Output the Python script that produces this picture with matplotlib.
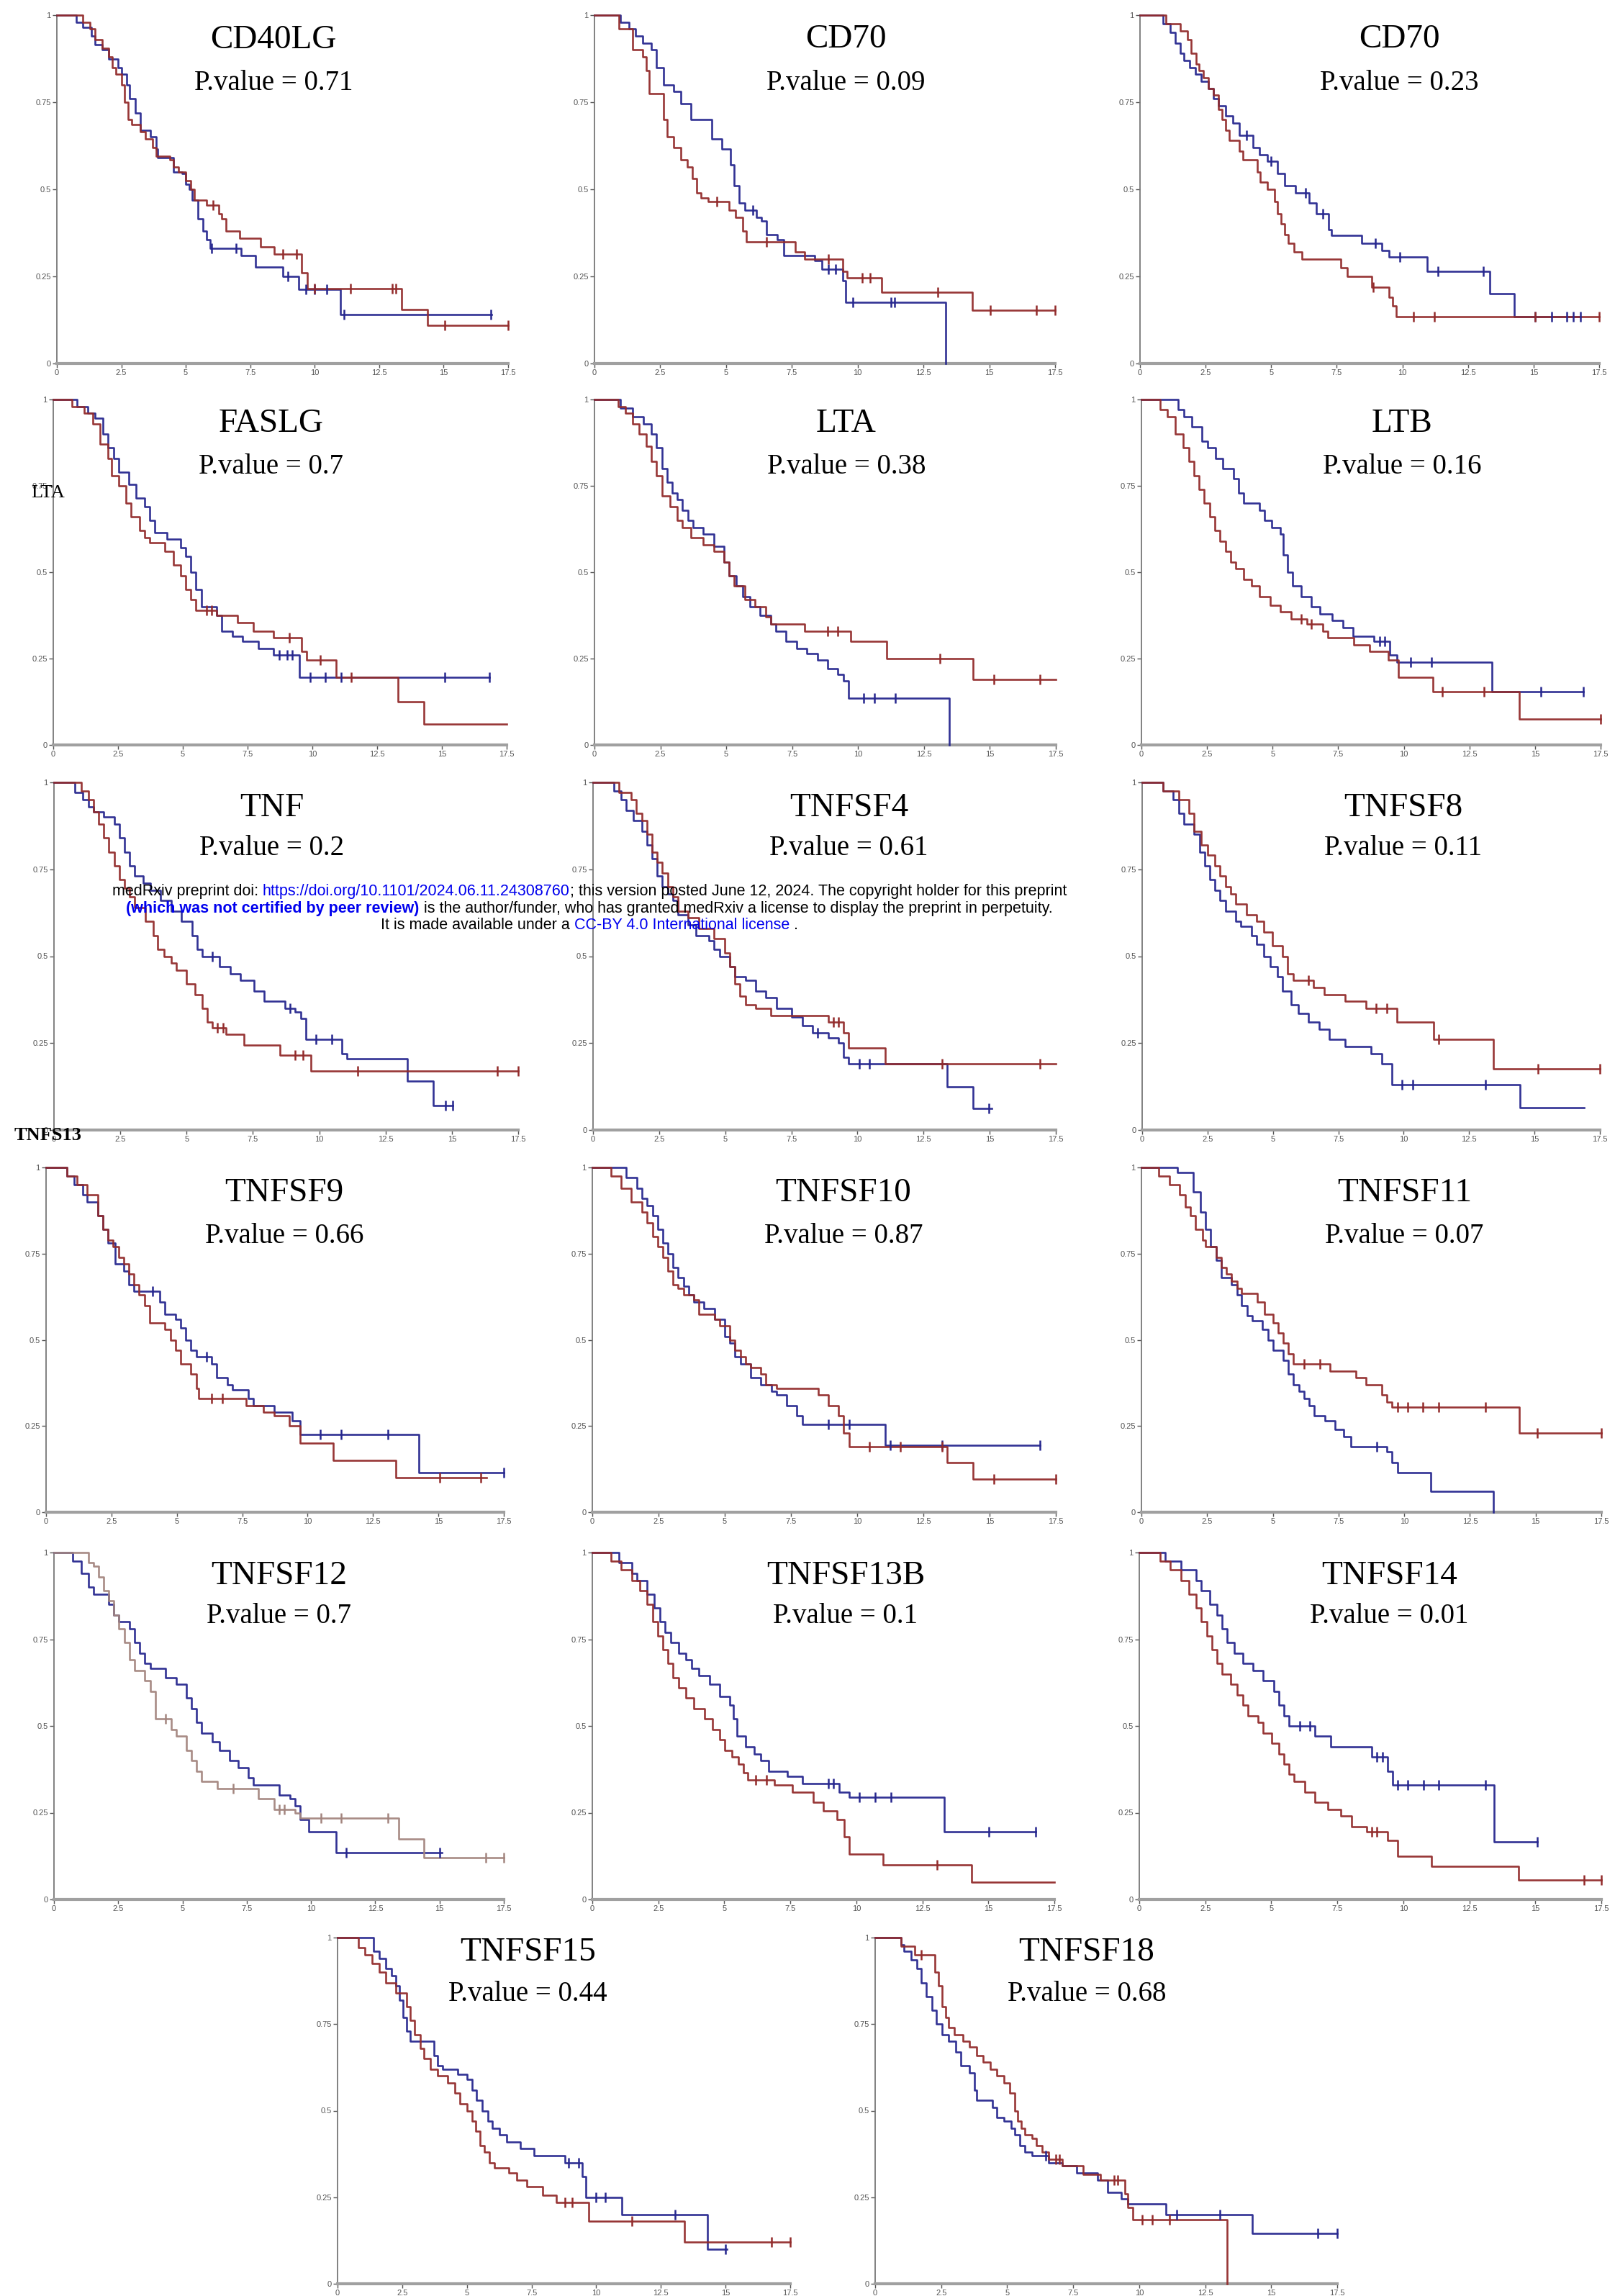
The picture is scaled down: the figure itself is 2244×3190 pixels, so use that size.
import numpy as np
import matplotlib
matplotlib.use('Agg')
import matplotlib.pyplot as plt
from matplotlib.offsetbox import TextArea, HPacker, VPacker, AnchoredOffsetbox

# --- パネルの見出し ---
genes = ['CD40LG', 'CD70', 'CD70', 'FASLG', 'LTA', 'LTB', 'TNF', 'TNFSF4', 'TNFSF8',
         'TNFSF9', 'TNFSF10', 'TNFSF11', 'TNFSF12', 'TNFSF13B', 'TNFSF14', 'TNFSF15', 'TNFSF18']
pvalues = ['0.71', '0.09', '0.23', '0.7', '0.38', '0.16', '0.2', '0.61', '0.11',
           '0.66', '0.87', '0.07', '0.7', '0.1', '0.01', '0.44', '0.68']

# --- 生存曲線 (time, survival, censor times) ---
cd40lg_b_t = [0, 0.74, 1.01, 1.35, 1.48, 1.75, 2.02, 2.36, 2.5, 2.7, 2.83, 3.04, 3.24, 3.64, 3.85, 3.91, 4.52, 4.86, 4.99, 5.13, 5.26, 5.47, 5.67, 5.8, 5.94, 7.15, 7.69, 8.77, 9.38, 11.0, 16.85]
cd40lg_b_s = [1, 0.98, 0.965, 0.94, 0.915, 0.90, 0.875, 0.85, 0.83, 0.80, 0.76, 0.72, 0.67, 0.65, 0.615, 0.59, 0.55, 0.545, 0.515, 0.50, 0.47, 0.415, 0.38, 0.355, 0.33, 0.31, 0.276, 0.25, 0.212, 0.14, 0.14]
cd40lg_b_c = [6.0, 6.96, 8.97, 9.65, 9.99, 10.46, 11.13, 16.84]
cd40lg_r_t = [0, 1.0, 1.28, 1.48, 1.75, 2.02, 2.16, 2.3, 2.5, 2.63, 2.77, 2.9, 3.24, 3.44, 3.71, 3.85, 4.39, 4.52, 4.72, 4.99, 5.2, 5.33, 5.8, 6.27, 6.4, 6.55, 7.08, 7.9, 8.43, 9.5, 9.7, 13.36, 14.37, 17.5]
cd40lg_r_s = [1, 0.98, 0.96, 0.93, 0.905, 0.88, 0.85, 0.83, 0.80, 0.75, 0.70, 0.685, 0.665, 0.645, 0.62, 0.595, 0.585, 0.565, 0.55, 0.525, 0.50, 0.47, 0.455, 0.43, 0.415, 0.38, 0.36, 0.335, 0.315, 0.26, 0.215, 0.155, 0.11, 0.11]
cd40lg_r_c = [6.07, 8.77, 9.3, 10.0, 11.4, 13.0, 13.15, 15.05, 17.5]

cd70_b_t = [0, 0.99, 1.31, 1.57, 1.83, 2.17, 2.36, 2.62, 3.01, 3.27, 3.66, 4.45, 4.84, 5.18, 5.31, 5.5, 5.71, 6.15, 6.34, 6.54, 6.94, 7.2, 8.38, 8.64, 9.42, 9.55, 13.35, 13.35]
cd70_b_s = [1, 0.98, 0.96, 0.94, 0.92, 0.90, 0.85, 0.80, 0.78, 0.745, 0.70, 0.645, 0.615, 0.57, 0.51, 0.46, 0.44, 0.42, 0.41, 0.37, 0.355, 0.31, 0.295, 0.27, 0.237, 0.176, 0, 0]
cd70_b_c = [6.02, 8.9, 9.16, 9.82, 11.26, 11.39]
cd70_r_t = [0, 0.92, 1.44, 1.83, 1.96, 2.09, 2.62, 2.75, 3.01, 3.27, 3.53, 3.72, 3.87, 4.06, 4.32, 5.1, 5.37, 5.63, 5.76, 7.64, 7.98, 9.42, 9.61, 10.92, 14.35, 17.5]
cd70_r_s = [1, 0.96, 0.90, 0.88, 0.84, 0.775, 0.70, 0.65, 0.62, 0.585, 0.565, 0.53, 0.49, 0.475, 0.465, 0.44, 0.42, 0.38, 0.35, 0.32, 0.30, 0.265, 0.245, 0.205, 0.153, 0.153]
cd70_r_c = [4.66, 6.54, 8.9, 10.16, 10.47, 13.04, 15.05, 16.8, 17.5]

cd70b_b_t = [0, 0.88, 1.14, 1.35, 1.54, 1.67, 1.88, 2.12, 2.33, 2.6, 2.79, 3.0, 3.26, 3.53, 3.79, 4.32, 4.54, 4.85, 5.25, 5.52, 5.92, 6.45, 6.71, 7.19, 7.3, 8.44, 9.23, 9.5, 10.95, 13.34, 14.27, 16.8]
cd70b_b_s = [1, 0.975, 0.95, 0.92, 0.89, 0.87, 0.85, 0.83, 0.81, 0.79, 0.76, 0.74, 0.71, 0.69, 0.655, 0.62, 0.60, 0.58, 0.545, 0.51, 0.49, 0.46, 0.43, 0.385, 0.367, 0.345, 0.325, 0.305, 0.265, 0.20, 0.135, 0.135]
cd70b_b_c = [4.06, 4.99, 6.31, 6.98, 8.97, 9.89, 11.35, 13.08, 15.07, 15.7, 16.26, 16.5, 16.8]
cd70b_r_t = [0, 1.0, 1.54, 1.8, 1.94, 2.15, 2.25, 2.41, 2.6, 2.79, 3.0, 3.13, 3.26, 3.4, 3.79, 3.93, 4.46, 4.59, 4.85, 5.12, 5.25, 5.38, 5.52, 5.65, 5.86, 6.18, 7.64, 7.9, 8.83, 9.5, 9.63, 9.76, 17.5]
cd70b_r_s = [1, 0.975, 0.955, 0.93, 0.89, 0.86, 0.84, 0.82, 0.79, 0.77, 0.73, 0.70, 0.67, 0.64, 0.61, 0.585, 0.55, 0.52, 0.50, 0.465, 0.43, 0.40, 0.37, 0.345, 0.32, 0.30, 0.275, 0.25, 0.22, 0.19, 0.165, 0.135, 0.135]
cd70b_r_c = [8.9, 10.42, 11.22, 15.07, 17.5]

faslg_b_t = [0, 0.92, 1.32, 1.6, 1.92, 2.12, 2.32, 2.52, 2.92, 3.2, 3.52, 3.72, 3.92, 4.39, 4.91, 5.11, 5.31, 5.51, 5.71, 6.31, 6.51, 6.91, 7.31, 7.91, 8.51, 9.51, 16.82]
faslg_b_s = [1, 0.98, 0.96, 0.945, 0.90, 0.86, 0.83, 0.79, 0.755, 0.715, 0.69, 0.65, 0.615, 0.595, 0.57, 0.545, 0.50, 0.45, 0.40, 0.375, 0.33, 0.315, 0.30, 0.28, 0.26, 0.195, 0.195]
faslg_b_c = [8.71, 9.03, 9.23, 9.91, 10.5, 11.1, 15.1, 16.82]
faslg_r_t = [0, 0.72, 1.2, 1.52, 1.8, 2.12, 2.24, 2.52, 2.8, 3.0, 3.32, 3.52, 3.72, 4.31, 4.63, 4.91, 5.11, 5.31, 5.51, 6.31, 7.11, 7.71, 8.51, 9.59, 9.79, 10.91, 13.3, 14.3, 17.5]
faslg_r_s = [1, 0.98, 0.96, 0.93, 0.87, 0.83, 0.78, 0.75, 0.70, 0.66, 0.62, 0.60, 0.585, 0.56, 0.52, 0.49, 0.45, 0.42, 0.39, 0.375, 0.355, 0.33, 0.31, 0.27, 0.245, 0.195, 0.125, 0.06, 0.06]
faslg_r_c = [5.91, 6.11, 9.11, 10.3, 11.5]

lta_b_t = [0, 0.98, 1.45, 1.85, 2.16, 2.36, 2.56, 2.75, 2.95, 3.15, 3.34, 3.54, 3.74, 4.13, 4.52, 4.92, 5.11, 5.39, 5.62, 5.9, 6.29, 6.69, 6.88, 7.27, 7.67, 8.06, 8.45, 8.85, 9.24, 9.44, 9.63, 13.45, 13.45]
lta_b_s = [1, 0.975, 0.95, 0.93, 0.90, 0.86, 0.80, 0.76, 0.73, 0.71, 0.68, 0.65, 0.63, 0.61, 0.575, 0.53, 0.49, 0.46, 0.43, 0.40, 0.375, 0.35, 0.33, 0.30, 0.28, 0.265, 0.245, 0.22, 0.205, 0.185, 0.135, 0, 0]
lta_b_c = [10.22, 10.62, 11.4]
lta_r_t = [0, 0.9, 1.18, 1.45, 1.69, 1.97, 2.16, 2.36, 2.56, 2.87, 3.15, 3.34, 3.66, 4.13, 4.52, 4.92, 5.11, 5.31, 5.7, 6.1, 6.49, 6.69, 7.98, 9.71, 11.09, 14.35, 17.5]
lta_r_s = [1, 0.98, 0.96, 0.93, 0.90, 0.865, 0.82, 0.78, 0.72, 0.69, 0.65, 0.63, 0.60, 0.58, 0.56, 0.53, 0.49, 0.46, 0.42, 0.40, 0.37, 0.35, 0.33, 0.30, 0.25, 0.19, 0.19]
lta_r_c = [8.85, 9.24, 13.1, 15.14, 16.9]

ltb_b_t = [0, 1.39, 1.63, 1.91, 2.31, 2.51, 2.82, 3.1, 3.5, 3.7, 3.9, 4.49, 4.69, 4.97, 5.29, 5.41, 5.57, 5.77, 6.09, 6.48, 6.8, 7.28, 7.68, 8.07, 8.87, 9.47, 9.75, 13.37, 16.83]
ltb_b_s = [1, 0.97, 0.95, 0.92, 0.88, 0.86, 0.83, 0.80, 0.77, 0.73, 0.70, 0.68, 0.65, 0.63, 0.61, 0.55, 0.50, 0.46, 0.43, 0.40, 0.38, 0.36, 0.34, 0.315, 0.30, 0.26, 0.24, 0.155, 0.155]
ltb_b_c = [9.07, 9.27, 10.26, 11.06, 15.23, 16.83]
ltb_r_t = [0, 0.72, 1.0, 1.3, 1.6, 1.8, 2.0, 2.2, 2.4, 2.6, 2.8, 3.0, 3.2, 3.4, 3.6, 3.9, 4.2, 4.5, 4.9, 5.3, 5.7, 6.3, 6.9, 7.1, 8.1, 8.7, 9.4, 9.8, 11.1, 14.4, 17.5]
ltb_r_s = [1, 0.97, 0.95, 0.90, 0.86, 0.82, 0.78, 0.74, 0.70, 0.66, 0.62, 0.59, 0.56, 0.53, 0.51, 0.48, 0.46, 0.43, 0.405, 0.385, 0.365, 0.35, 0.33, 0.31, 0.29, 0.27, 0.245, 0.195, 0.155, 0.075, 0.075]
ltb_r_c = [6.09, 6.48, 11.46, 13.05, 17.5]

tnf_b_t = [0, 0.78, 1.09, 1.29, 1.48, 1.88, 2.27, 2.46, 2.66, 2.85, 3.05, 3.36, 3.63, 4.02, 4.41, 4.8, 5.2, 5.39, 5.59, 6.25, 6.64, 7.03, 7.54, 7.93, 8.71, 9.1, 9.3, 9.49, 10.86, 11.05, 13.32, 14.3, 15.04]
tnf_b_s = [1, 0.97, 0.95, 0.93, 0.915, 0.90, 0.88, 0.84, 0.80, 0.76, 0.73, 0.71, 0.69, 0.66, 0.63, 0.60, 0.56, 0.52, 0.50, 0.47, 0.45, 0.43, 0.40, 0.37, 0.35, 0.34, 0.32, 0.26, 0.22, 0.205, 0.14, 0.07, 0.07]
tnf_b_c = [5.98, 8.9, 9.88, 10.47, 14.77, 15.04]
tnf_r_t = [0, 1.02, 1.29, 1.48, 1.68, 1.88, 2.07, 2.27, 2.46, 2.66, 2.85, 3.05, 3.44, 3.75, 3.91, 4.14, 4.41, 4.61, 5.0, 5.31, 5.59, 5.78, 5.98, 6.48, 7.15, 8.52, 9.69, 17.5]
tnf_r_s = [1, 0.975, 0.95, 0.915, 0.88, 0.84, 0.80, 0.76, 0.72, 0.695, 0.67, 0.64, 0.60, 0.56, 0.52, 0.50, 0.48, 0.46, 0.42, 0.39, 0.35, 0.31, 0.295, 0.275, 0.245, 0.215, 0.17, 0.17]
tnf_r_c = [6.17, 6.37, 9.1, 9.38, 11.45, 16.72, 17.5]

tnfsf4_b_t = [0, 0.78, 1.06, 1.25, 1.53, 1.84, 2.04, 2.23, 2.43, 2.62, 2.82, 3.01, 3.21, 3.6, 3.88, 4.39, 4.58, 4.78, 5.17, 5.36, 5.76, 6.15, 6.54, 6.93, 7.52, 7.91, 8.3, 8.89, 9.28, 9.48, 9.67, 13.39, 14.37, 15.07]
tnfsf4_b_s = [1, 0.975, 0.95, 0.92, 0.89, 0.86, 0.82, 0.78, 0.73, 0.70, 0.68, 0.66, 0.62, 0.59, 0.56, 0.545, 0.52, 0.50, 0.47, 0.44, 0.43, 0.40, 0.38, 0.35, 0.325, 0.30, 0.28, 0.265, 0.25, 0.21, 0.19, 0.125, 0.063, 0.063]
tnfsf4_b_c = [8.5, 10.06, 10.45, 14.96]
tnfsf4_r_t = [0, 0.98, 1.45, 1.64, 1.84, 2.04, 2.23, 2.43, 2.62, 2.82, 3.01, 3.21, 3.6, 3.99, 4.58, 4.97, 5.17, 5.36, 5.56, 5.76, 6.15, 6.73, 8.89, 9.48, 9.67, 11.04, 17.5]
tnfsf4_r_s = [1, 0.97, 0.95, 0.91, 0.89, 0.85, 0.80, 0.77, 0.74, 0.70, 0.67, 0.63, 0.61, 0.58, 0.55, 0.51, 0.47, 0.42, 0.385, 0.36, 0.35, 0.33, 0.31, 0.28, 0.235, 0.19, 0.19]
tnfsf4_r_c = [9.08, 9.28, 13.2, 16.9]

tnfsf8_b_t = [0, 0.8, 1.19, 1.39, 1.59, 1.99, 2.19, 2.39, 2.59, 2.78, 2.98, 3.18, 3.58, 3.78, 4.18, 4.38, 4.65, 4.89, 5.17, 5.37, 5.69, 5.97, 6.36, 6.76, 7.16, 7.76, 8.75, 9.15, 9.55, 14.44, 16.9]
tnfsf8_b_s = [1, 0.975, 0.95, 0.91, 0.88, 0.85, 0.80, 0.76, 0.72, 0.69, 0.66, 0.63, 0.60, 0.585, 0.56, 0.535, 0.50, 0.47, 0.44, 0.40, 0.36, 0.335, 0.31, 0.29, 0.26, 0.24, 0.22, 0.19, 0.13, 0.065, 0.065]
tnfsf8_b_c = [9.94, 10.34, 13.13]
tnfsf8_r_t = [0, 0.8, 1.39, 1.79, 1.99, 2.27, 2.51, 2.78, 2.98, 3.18, 3.38, 3.58, 3.98, 4.38, 4.65, 4.97, 5.37, 5.57, 5.77, 6.56, 6.96, 7.76, 8.55, 9.75, 11.14, 13.44, 17.5]
tnfsf8_r_s = [1, 0.975, 0.95, 0.91, 0.86, 0.82, 0.79, 0.76, 0.73, 0.70, 0.68, 0.65, 0.62, 0.60, 0.57, 0.53, 0.50, 0.45, 0.43, 0.41, 0.39, 0.37, 0.35, 0.31, 0.26, 0.175, 0.175]
tnfsf8_r_c = [6.36, 8.95, 9.35, 11.34, 15.12, 17.5]

tnfsf9_b_t = [0, 0.79, 1.07, 1.39, 1.58, 1.98, 2.18, 2.38, 2.65, 2.97, 3.17, 3.37, 4.35, 4.55, 4.95, 5.15, 5.34, 5.54, 5.74, 6.33, 6.53, 6.93, 7.13, 7.72, 7.92, 8.71, 9.42, 9.7, 14.25, 17.5]
tnfsf9_b_s = [1, 0.975, 0.95, 0.92, 0.90, 0.86, 0.82, 0.78, 0.72, 0.70, 0.66, 0.64, 0.61, 0.575, 0.56, 0.535, 0.50, 0.47, 0.45, 0.43, 0.39, 0.37, 0.355, 0.33, 0.31, 0.29, 0.265, 0.225, 0.115, 0.115]
tnfsf9_b_c = [4.08, 6.14, 10.49, 11.28, 13.06, 17.5]
tnfsf9_r_t = [0, 0.79, 1.19, 1.58, 1.98, 2.18, 2.38, 2.57, 2.77, 2.97, 3.17, 3.37, 3.56, 3.76, 3.96, 4.55, 4.75, 4.95, 5.15, 5.54, 5.74, 5.82, 7.64, 8.31, 8.71, 9.3, 9.7, 10.97, 13.38, 16.83]
tnfsf9_r_s = [1, 0.975, 0.95, 0.92, 0.86, 0.82, 0.79, 0.77, 0.74, 0.72, 0.69, 0.66, 0.63, 0.60, 0.55, 0.53, 0.50, 0.47, 0.43, 0.40, 0.36, 0.33, 0.31, 0.29, 0.28, 0.25, 0.20, 0.15, 0.10, 0.10]
tnfsf9_r_c = [6.33, 6.73, 15.04, 16.63]

tnfsf10_b_t = [0, 1.29, 1.68, 1.88, 2.07, 2.27, 2.46, 2.66, 2.85, 3.05, 3.24, 3.44, 3.63, 3.83, 4.22, 4.61, 5.0, 5.2, 5.39, 5.59, 5.98, 6.37, 6.76, 6.95, 7.34, 7.73, 7.93, 11.05, 16.91]
tnfsf10_b_s = [1, 0.97, 0.94, 0.91, 0.89, 0.86, 0.82, 0.78, 0.75, 0.71, 0.68, 0.655, 0.63, 0.61, 0.59, 0.56, 0.51, 0.49, 0.45, 0.43, 0.39, 0.37, 0.35, 0.34, 0.31, 0.28, 0.255, 0.195, 0.195]
tnfsf10_b_c = [8.91, 9.69, 11.25, 13.2, 16.91]
tnfsf10_r_t = [0, 0.7, 1.09, 1.48, 1.88, 2.07, 2.27, 2.46, 2.66, 2.85, 3.05, 3.24, 3.44, 3.83, 4.02, 4.61, 4.8, 5.2, 5.39, 5.59, 5.78, 5.98, 6.37, 6.56, 6.95, 8.52, 8.91, 9.3, 9.49, 9.69, 13.4, 14.38, 17.5]
tnfsf10_r_s = [1, 0.975, 0.94, 0.90, 0.87, 0.84, 0.80, 0.77, 0.74, 0.70, 0.66, 0.65, 0.63, 0.615, 0.575, 0.56, 0.54, 0.50, 0.47, 0.45, 0.43, 0.42, 0.40, 0.37, 0.36, 0.34, 0.31, 0.28, 0.23, 0.19, 0.145, 0.095, 0.095]
tnfsf10_r_c = [10.47, 11.64, 13.2, 15.16, 17.5]

tnfsf11_b_t = [0, 1.38, 1.97, 2.25, 2.44, 2.64, 2.84, 3.04, 3.43, 3.63, 3.82, 4.02, 4.22, 4.61, 4.81, 5.01, 5.4, 5.6, 5.79, 5.99, 6.19, 6.39, 6.58, 6.98, 7.37, 7.69, 7.96, 9.34, 9.54, 9.74, 11.0, 13.4, 13.4]
tnfsf11_b_s = [1, 0.985, 0.93, 0.87, 0.82, 0.77, 0.73, 0.68, 0.66, 0.63, 0.60, 0.57, 0.555, 0.53, 0.50, 0.47, 0.44, 0.40, 0.37, 0.35, 0.33, 0.31, 0.28, 0.265, 0.24, 0.22, 0.19, 0.175, 0.145, 0.115, 0.06, 0, 0]
tnfsf11_b_c = [8.95]
tnfsf11_r_t = [0, 0.67, 1.06, 1.46, 1.66, 1.85, 2.05, 2.33, 2.44, 2.84, 3.04, 3.23, 3.43, 3.63, 3.82, 4.41, 4.69, 5.01, 5.2, 5.4, 5.6, 5.79, 7.17, 8.16, 8.55, 9.14, 9.34, 9.54, 14.39, 17.5]
tnfsf11_r_s = [1, 0.975, 0.95, 0.92, 0.885, 0.86, 0.82, 0.79, 0.77, 0.74, 0.71, 0.69, 0.67, 0.65, 0.635, 0.61, 0.575, 0.55, 0.52, 0.49, 0.46, 0.43, 0.41, 0.39, 0.37, 0.34, 0.32, 0.305, 0.23, 0.23]
tnfsf11_r_c = [6.19, 6.78, 9.74, 10.13, 10.72, 11.31, 13.09, 15.06, 17.5]

tnfsf12_b_t = [0, 0.72, 1.05, 1.33, 1.53, 2.13, 2.33, 2.53, 2.94, 3.14, 3.34, 3.54, 3.74, 4.34, 4.75, 5.15, 5.35, 5.55, 5.75, 6.15, 6.44, 6.84, 7.16, 7.56, 7.76, 8.77, 9.17, 9.37, 9.57, 9.9, 10.98, 15.08]
tnfsf12_b_s = [1, 0.975, 0.94, 0.90, 0.88, 0.85, 0.82, 0.80, 0.78, 0.74, 0.71, 0.68, 0.665, 0.64, 0.62, 0.58, 0.55, 0.51, 0.48, 0.455, 0.43, 0.40, 0.38, 0.35, 0.33, 0.30, 0.29, 0.27, 0.23, 0.195, 0.135, 0.135]
tnfsf12_b_c = [11.38, 15.0]
tnfsf12_r_t = [0, 1.33, 1.53, 1.73, 1.93, 2.13, 2.33, 2.53, 2.74, 2.94, 3.14, 3.54, 3.74, 3.94, 4.55, 4.75, 5.15, 5.35, 5.55, 5.75, 6.36, 7.96, 8.57, 9.37, 9.57, 13.4, 14.4, 17.5]
tnfsf12_r_s = [1, 0.97, 0.96, 0.93, 0.89, 0.86, 0.82, 0.78, 0.74, 0.69, 0.66, 0.63, 0.60, 0.52, 0.49, 0.47, 0.43, 0.40, 0.37, 0.34, 0.32, 0.29, 0.26, 0.25, 0.235, 0.175, 0.12, 0.12]
tnfsf12_r_c = [4.34, 6.96, 8.77, 8.97, 10.38, 11.18, 12.99, 16.81, 17.5]

tnfsf13b_b_t = [0, 1.02, 1.49, 1.69, 2.08, 2.35, 2.55, 2.75, 2.98, 3.26, 3.53, 3.77, 4.04, 4.43, 4.83, 5.22, 5.34, 5.49, 5.81, 6.12, 6.39, 6.67, 7.38, 7.96, 9.34, 9.73, 13.34, 16.79]
tnfsf13b_b_s = [1, 0.97, 0.94, 0.92, 0.88, 0.84, 0.80, 0.77, 0.74, 0.71, 0.69, 0.665, 0.645, 0.62, 0.585, 0.56, 0.52, 0.47, 0.44, 0.42, 0.40, 0.37, 0.355, 0.335, 0.31, 0.295, 0.195, 0.195]
tnfsf13b_b_c = [8.94, 9.14, 10.12, 10.71, 11.3, 15.03, 16.79]
tnfsf13b_r_t = [0, 0.71, 1.1, 1.49, 1.8, 2.08, 2.28, 2.47, 2.67, 2.86, 3.06, 3.26, 3.53, 3.84, 4.24, 4.55, 4.83, 5.02, 5.3, 5.53, 5.73, 5.88, 6.9, 7.57, 8.36, 8.75, 9.26, 9.53, 9.73, 11.02, 14.36, 17.5]
tnfsf13b_r_s = [1, 0.975, 0.95, 0.92, 0.89, 0.85, 0.80, 0.76, 0.72, 0.68, 0.64, 0.61, 0.58, 0.55, 0.52, 0.49, 0.46, 0.43, 0.41, 0.39, 0.365, 0.345, 0.33, 0.31, 0.28, 0.255, 0.23, 0.18, 0.13, 0.10, 0.05, 0.05]
tnfsf13b_r_c = [6.2, 6.59, 13.06]

tnfsf14_b_t = [0, 0.98, 1.57, 2.15, 2.35, 2.66, 2.94, 3.13, 3.33, 3.6, 3.92, 4.31, 4.7, 5.09, 5.29, 5.48, 5.68, 6.66, 7.24, 8.81, 9.4, 9.59, 13.43, 15.07]
tnfsf14_b_s = [1, 0.975, 0.95, 0.92, 0.89, 0.85, 0.82, 0.78, 0.74, 0.71, 0.68, 0.66, 0.63, 0.60, 0.56, 0.53, 0.50, 0.47, 0.44, 0.41, 0.37, 0.33, 0.165, 0.165]
tnfsf14_b_c = [6.07, 6.46, 9.0, 9.2, 9.79, 10.18, 10.77, 11.35, 13.12, 15.07]
tnfsf14_r_t = [0, 0.78, 1.17, 1.57, 1.88, 2.15, 2.35, 2.55, 2.74, 2.94, 3.13, 3.45, 3.72, 3.92, 4.11, 4.5, 4.7, 5.01, 5.29, 5.48, 5.68, 5.87, 6.26, 6.66, 7.13, 7.64, 8.03, 8.61, 9.4, 9.79, 11.08, 14.37, 17.5]
tnfsf14_r_s = [1, 0.975, 0.95, 0.92, 0.88, 0.84, 0.80, 0.76, 0.72, 0.68, 0.65, 0.62, 0.59, 0.56, 0.53, 0.51, 0.48, 0.45, 0.42, 0.39, 0.36, 0.34, 0.31, 0.28, 0.26, 0.24, 0.21, 0.195, 0.17, 0.125, 0.095, 0.055, 0.055]
tnfsf14_r_c = [8.81, 9.0, 16.84, 17.5]

tnfsf15_b_t = [0, 1.39, 1.6, 1.86, 2.08, 2.26, 2.4, 2.53, 2.66, 2.8, 3.73, 3.86, 4.05, 4.66, 5.01, 5.19, 5.38, 5.59, 5.81, 5.99, 6.26, 6.53, 7.06, 7.59, 8.79, 9.46, 9.59, 11.0, 14.3, 15.05]
tnfsf15_b_s = [1, 0.96, 0.94, 0.91, 0.89, 0.86, 0.82, 0.77, 0.73, 0.70, 0.66, 0.63, 0.62, 0.605, 0.59, 0.56, 0.53, 0.50, 0.47, 0.45, 0.43, 0.41, 0.39, 0.37, 0.35, 0.31, 0.25, 0.20, 0.10, 0.10]
tnfsf15_b_c = [8.92, 9.32, 9.99, 10.34, 13.05, 15.0]
tnfsf15_r_t = [0, 0.8, 1.07, 1.33, 1.6, 1.86, 2.26, 2.66, 2.8, 2.98, 3.2, 3.33, 3.6, 3.86, 4.26, 4.53, 4.74, 5.01, 5.19, 5.33, 5.51, 5.67, 5.86, 6.07, 6.61, 6.93, 7.33, 7.94, 8.47, 9.72, 13.4, 17.5]
tnfsf15_r_s = [1, 0.97, 0.95, 0.925, 0.90, 0.87, 0.84, 0.80, 0.76, 0.72, 0.68, 0.65, 0.62, 0.60, 0.58, 0.55, 0.52, 0.50, 0.47, 0.44, 0.40, 0.38, 0.35, 0.335, 0.32, 0.30, 0.28, 0.255, 0.235, 0.18, 0.12, 0.12]
tnfsf15_r_c = [8.79, 9.06, 11.37, 16.78, 17.5]

tnfsf18_b_t = [0, 0.97, 1.1, 1.36, 1.57, 1.75, 1.93, 2.14, 2.32, 2.53, 2.79, 3.06, 3.24, 3.58, 3.76, 3.84, 4.44, 4.62, 4.88, 5.14, 5.28, 5.48, 5.67, 5.93, 6.58, 7.1, 7.63, 8.41, 8.8, 9.32, 9.58, 11.02, 14.29, 17.5]
tnfsf18_b_s = [1, 0.98, 0.96, 0.935, 0.91, 0.87, 0.83, 0.79, 0.75, 0.72, 0.70, 0.67, 0.63, 0.61, 0.56, 0.53, 0.51, 0.48, 0.47, 0.45, 0.43, 0.40, 0.38, 0.37, 0.35, 0.34, 0.32, 0.30, 0.265, 0.245, 0.23, 0.20, 0.145, 0.145]
tnfsf18_b_c = [6.45, 11.41, 13.06, 16.77, 17.5]
tnfsf18_r_t = [0, 0.97, 1.49, 2.27, 2.4, 2.53, 2.66, 2.79, 3.0, 3.32, 3.58, 3.84, 4.1, 4.36, 4.62, 4.88, 5.09, 5.28, 5.41, 5.54, 5.67, 5.93, 6.11, 6.32, 6.58, 7.1, 7.89, 8.54, 9.45, 9.58, 9.77, 13.32, 13.32]
tnfsf18_r_s = [1, 0.975, 0.95, 0.90, 0.86, 0.80, 0.77, 0.74, 0.72, 0.70, 0.685, 0.66, 0.64, 0.62, 0.60, 0.58, 0.55, 0.50, 0.47, 0.45, 0.43, 0.42, 0.40, 0.38, 0.36, 0.34, 0.315, 0.30, 0.26, 0.22, 0.185, 0, 0]
tnfsf18_r_c = [1.75, 6.84, 6.97, 9.06, 9.19, 10.11, 10.5, 11.15]

curves = [
    (cd40lg_b_t, cd40lg_b_s, cd40lg_b_c, cd40lg_r_t, cd40lg_r_s, cd40lg_r_c),
    (cd70_b_t, cd70_b_s, cd70_b_c, cd70_r_t, cd70_r_s, cd70_r_c),
    (cd70b_b_t, cd70b_b_s, cd70b_b_c, cd70b_r_t, cd70b_r_s, cd70b_r_c),
    (faslg_b_t, faslg_b_s, faslg_b_c, faslg_r_t, faslg_r_s, faslg_r_c),
    (lta_b_t, lta_b_s, lta_b_c, lta_r_t, lta_r_s, lta_r_c),
    (ltb_b_t, ltb_b_s, ltb_b_c, ltb_r_t, ltb_r_s, ltb_r_c),
    (tnf_b_t, tnf_b_s, tnf_b_c, tnf_r_t, tnf_r_s, tnf_r_c),
    (tnfsf4_b_t, tnfsf4_b_s, tnfsf4_b_c, tnfsf4_r_t, tnfsf4_r_s, tnfsf4_r_c),
    (tnfsf8_b_t, tnfsf8_b_s, tnfsf8_b_c, tnfsf8_r_t, tnfsf8_r_s, tnfsf8_r_c),
    (tnfsf9_b_t, tnfsf9_b_s, tnfsf9_b_c, tnfsf9_r_t, tnfsf9_r_s, tnfsf9_r_c),
    (tnfsf10_b_t, tnfsf10_b_s, tnfsf10_b_c, tnfsf10_r_t, tnfsf10_r_s, tnfsf10_r_c),
    (tnfsf11_b_t, tnfsf11_b_s, tnfsf11_b_c, tnfsf11_r_t, tnfsf11_r_s, tnfsf11_r_c),
    (tnfsf12_b_t, tnfsf12_b_s, tnfsf12_b_c, tnfsf12_r_t, tnfsf12_r_s, tnfsf12_r_c),
    (tnfsf13b_b_t, tnfsf13b_b_s, tnfsf13b_b_c, tnfsf13b_r_t, tnfsf13b_r_s, tnfsf13b_r_c),
    (tnfsf14_b_t, tnfsf14_b_s, tnfsf14_b_c, tnfsf14_r_t, tnfsf14_r_s, tnfsf14_r_c),
    (tnfsf15_b_t, tnfsf15_b_s, tnfsf15_b_c, tnfsf15_r_t, tnfsf15_r_s, tnfsf15_r_c),
    (tnfsf18_b_t, tnfsf18_b_s, tnfsf18_b_c, tnfsf18_r_t, tnfsf18_r_s, tnfsf18_r_c),
]

xticks = [0, 2.5, 5, 7.5, 10, 12.5, 15, 17.5]
xticklabels = ['0', '2.5', '5', '7.5', '10', '12.5', '15', '17.5']
yticks = [0, 0.25, 0.5, 0.75, 1]
yticklabels = ['0', '0.25', '0.5', '0.75', '1']

# --- レイアウト (pixel: x0, x1, ytop, ybottom, title x, title y, p y) ---
W, H = 2244, 3190
layout = [
    (79, 706, 21, 505, 0.48, 0.928, 0.805),
    (826, 1466, 21, 505, 0.546, 0.93, 0.805),
    (1584, 2222, 21, 505, 0.565, 0.93, 0.805),
    (74, 704, 555, 1035, 0.48, 0.93, 0.805),
    (826, 1467, 555, 1035, 0.546, 0.93, 0.805),
    (1586, 2224, 555, 1035, 0.568, 0.93, 0.805),
    (75, 720, 1087, 1570, 0.469, 0.925, 0.81),
    (824, 1467, 1087, 1570, 0.553, 0.925, 0.81),
    (1587, 2223, 1087, 1570, 0.57, 0.925, 0.81),
    (64, 700, 1622, 2101, 0.52, 0.925, 0.80),
    (823, 1467, 1622, 2101, 0.542, 0.925, 0.80),
    (1586, 2225, 1622, 2101, 0.572, 0.925, 0.80),
    (75, 700, 2157, 2639, 0.50, 0.932, 0.817),
    (823, 1465, 2157, 2639, 0.548, 0.932, 0.817),
    (1583, 2225, 2157, 2639, 0.541, 0.932, 0.817),
    (469, 1098, 2692, 3173, 0.42, 0.956, 0.836),
    (1216, 1858, 2692, 3173, 0.458, 0.956, 0.836),
]

BLUE = '#26278e'
RED = '#922b2b'
RED12 = '#a3857f'
SERIF = 'Liberation Serif'

fig = plt.figure(figsize=(W / 100, H / 100), dpi=100)


def draw_km(ax, t, s, cens, color):
    t = np.asarray(t, dtype=float)
    s = np.asarray(s, dtype=float)
    ax.step(t, s, where='post', color=color, lw=1.9, clip_on=False, alpha=0.95, zorder=3)
    idx = np.searchsorted(t, cens, side='right') - 1
    ax.plot(cens, s[idx], ls='none', marker='|', ms=10, mew=1.8, color=color,
            clip_on=False, zorder=4)


for i, (x0, x1, yt, yb, tx, ty, py) in enumerate(layout):
    ax = fig.add_axes([x0 / W, 1 - yb / H, (x1 - x0) / W, (yb - yt) / H])
    bt, bs, bc, rt, rs, rc = curves[i]
    draw_km(ax, bt, bs, bc, BLUE)
    draw_km(ax, rt, rs, rc, RED12 if genes[i] == 'TNFSF12' else RED)

    ax.set_xlim(0, 17.5)
    ax.set_ylim(0, 1)
    ax.set_xticks(xticks)
    ax.set_xticklabels(xticklabels)
    ax.set_yticks(yticks)
    ax.set_yticklabels(yticklabels)
    for side in ['top', 'right']:
        ax.spines[side].set_visible(False)
    ax.spines['left'].set_color('#777777')
    ax.spines['left'].set_linewidth(1.3)
    ax.spines['bottom'].set_color('#a0a0a0')
    ax.spines['bottom'].set_linewidth(3)
    ax.tick_params(labelsize=8, colors='#555555', length=4, width=1, pad=2)
    for lab in ax.get_xticklabels() + ax.get_yticklabels():
        lab.set_family('Liberation Sans')

    ax.text(tx, ty, genes[i], transform=ax.transAxes, ha='center', va='center',
            fontsize=34, family=SERIF)
    ax.text(tx, py, 'P.value = ' + pvalues[i], transform=ax.transAxes, ha='center',
            va='center', fontsize=28, family=SERIF)

# 迷子のラベル
fig.text(43 / W, 1 - 685 / H, 'LTA', family=SERIF, fontsize=19, va='center')
fig.text(20 / W, 1 - 1578 / H, 'TNFS13', family=SERIF, fontsize=19, fontweight='bold',
         va='center')

# --- medRxiv の透かし ---
LINK = '#0000ee'


def seg(txt, color='black', weight='normal'):
    return TextArea(txt, textprops=dict(color=color, fontsize=15.5, family='Liberation Sans',
                                        fontweight=weight))


line1 = HPacker(children=[seg('medRxiv preprint doi: '),
                          seg('https://doi.org/10.1101/2024.06.11.24308760', LINK),
                          seg('; this version posted June 12, 2024. The copyright holder for this preprint')],
                pad=0, sep=0, align='baseline')
line2 = HPacker(children=[seg('(which was not certified by peer review)', LINK, 'bold'),
                          seg(' is the author/funder, who has granted medRxiv a license to display the preprint in perpetuity.')],
                pad=0, sep=0, align='baseline')
line3 = HPacker(children=[seg('It is made available under a '),
                          seg('CC-BY 4.0 International license', LINK),
                          seg(' .')],
                pad=0, sep=0, align='baseline')
block = VPacker(children=[line1, line2, line3], pad=0, sep=2, align='center')
box = AnchoredOffsetbox(loc='center', child=block, pad=0, borderpad=0, frameon=False,
                        bbox_to_anchor=(0.365, 1 - 1262 / H), bbox_transform=fig.transFigure)
box.set_zorder(10)
fig.add_artist(box)

fig.savefig('out.png', dpi=100, facecolor='white')
